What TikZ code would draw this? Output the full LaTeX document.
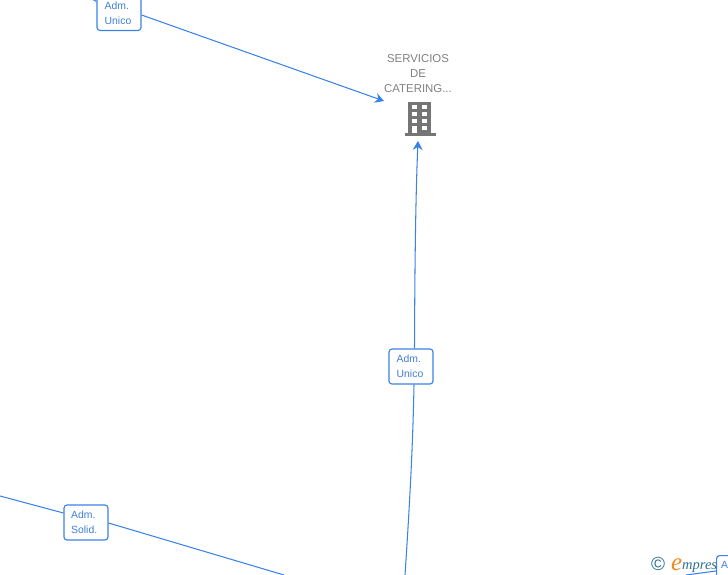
\documentclass[tikz,border=0pt]{standalone}
\usepackage{fontspec}
\setmainfont{Liberation Sans}
\newfontfamily\logofont{Liberation Serif}
\usetikzlibrary{arrows.meta}
\definecolor{linkblue}{HTML}{3B82E6}
\definecolor{labelblue}{HTML}{3F7FD8}
\definecolor{icongray}{HTML}{757575}
\definecolor{titlegray}{HTML}{808080}
\definecolor{logoblue}{HTML}{2F6F8F}
\definecolor{logoorange}{HTML}{F08A1D}
\tikzset{
  x=1pt,y=-1pt,
  rolebox/.style={draw=linkblue,fill=white,rounded corners=3pt,line width=1.15pt,minimum width=44pt,minimum height=35pt,inner sep=0pt},
  rolelabel/.style={anchor=west,inner sep=0pt,align=left,text=labelblue,font=\fontsize{10.4}{15}\selectfont},
  link/.style={draw=linkblue,line width=1.05pt},
  linkarrow/.style={link,-{Stealth[length=9pt,width=10pt]}},
  titletext/.style={text=titlegray,align=center,inner sep=0pt,font=\fontsize{11.4}{15}\selectfont}
}
\begin{document}
\begin{tikzpicture}
\useasboundingbox (0,0) rectangle (728,575);
\clip (0,0) rectangle (728,575);
% off-page and free ends
\coordinate (offA) at (84,-5);
\coordinate (offB) at (0,496);
\coordinate (offC) at (284,575);
\coordinate (offD) at (405,575);
\coordinate (offE) at (686,575);
\coordinate (inA) at (384,101);
\coordinate (inB) at (418,141);
% nodes
\node[rolebox] (boxA) at (119,13) {};
\node[rolelabel] (textA) at (104.5,13) {Adm.\\Unico};
\node[rolebox] (boxB) at (411,366.5) {};
\node[rolelabel] (textB) at (396.5,366.5) {Adm.\\Unico};
\node[rolebox] (boxC) at (86,522.5) {};
\node[rolelabel] (textC) at (71,522.5) {Adm.\\Solid.};
\node[titletext] (title) at (418,73.5) {SERVICIOS\\DE\\CATERING...};
% logo
\node[inner sep=0pt,text=logoblue,font=\fontsize{19}{19}\selectfont] (copy) at (658,564) {©};
\node[inner sep=0pt,text=logoorange,font=\logofont\fontsize{25}{25}\selectfont\itshape,anchor=base west] (logoe) at (671,570) {e};
\node[inner sep=0pt,text=logoblue,font=\logofont\fontsize{14.5}{15}\selectfont\itshape,anchor=base west] (logot) at (682,569) {mpres};
% connectors
\draw[link] (offA) -- (boxA);
\draw[linkarrow] (boxA.east |- 0,15) -- (inA);
\draw[linkarrow] (boxB.north -| 414.5,0) .. controls (414.8,270) and (415.5,200) .. (inB);
\draw[link] (offD) .. controls (410,500) and (413,440) .. (boxB.south -| 414,0);
\draw[link] (offB) -- (boxC.west |- 0,513);
\draw[link] (boxC.east |- 0,523) -- (offC);
% last box, on top of the logo
\node[rolebox,anchor=north west] (boxD) at (716,555) {};
\node[rolelabel,anchor=base west] (textD) at (721,568) {A};
\draw[link] (offE) -- (boxD.west |- 0,571);
% building icon
\fill[icongray] (408,102) rectangle (431,133);
\fill[icongray] (404.5,133) rectangle (436,135.8);
\foreach \wx in {412,422}{
  \foreach \wy in {105,112,119}{
    \fill[white] (\wx,\wy) rectangle +(4.5,4.2);
  }
}
\fill[white] (412,126) rectangle (416.5,133);
\fill[white] (422,126) rectangle (426.5,130.5);
\end{tikzpicture}
\end{document}
